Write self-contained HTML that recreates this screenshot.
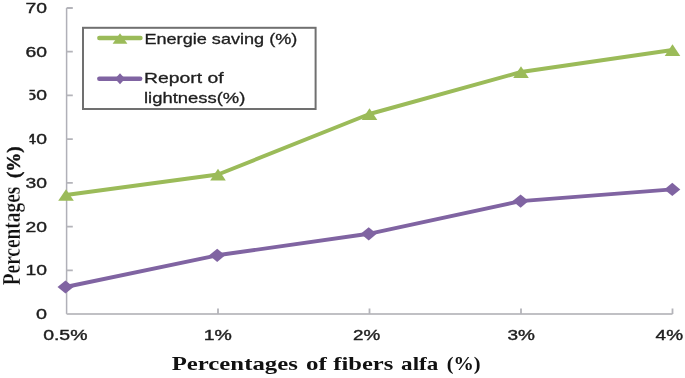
<!DOCTYPE html>
<html><head><meta charset="utf-8">
<style>
html,body{margin:0;padding:0;background:#fff;width:685px;height:378px;overflow:hidden}
svg{display:block;filter:blur(0.35px)}
.s{font-family:"Liberation Sans",sans-serif;fill:#1e1e1e}
.lb{stroke:#1e1e1e;stroke-width:0.4px}
.lb2{stroke:#1e1e1e;stroke-width:0.3px}
.er{stroke:#fff;stroke-width:0.25px}
.t{font-family:"Liberation Serif",serif;font-weight:bold;fill:#111}
</style></head><body>
<svg width="685" height="378" viewBox="0 0 685 378">
<rect width="685" height="378" fill="#fff"/>
<!-- axes -->
<g stroke="#b4b4ba" stroke-width="1.8" fill="none">
<path d="M66.6 8 V314" stroke-width="1.5" stroke="#b0b0b8"/>
<path d="M66.6 314 H672.5" stroke-width="1.9" stroke="#c0c0c4"/>
<path d="M66.6 8.0H72.8 M66.6 51.7H72.8 M66.6 95.4H72.8 M66.6 139.1H72.8 M66.6 182.9H72.8 M66.6 226.6H72.8 M66.6 270.3H72.8"/>
<path d="M218 314V308.5 M369.5 314V308.5 M521 314V308.5 M672.5 314V308.5"/>
</g>
<!-- y tick labels -->
<g class="s lb" font-size="15" text-anchor="end">
<text x="47" y="13.0" textLength="21.5" lengthAdjust="spacingAndGlyphs">70</text>
<text x="47" y="56.7" textLength="21.5" lengthAdjust="spacingAndGlyphs">60</text>
<text x="47" y="100.4" textLength="21.5" lengthAdjust="spacingAndGlyphs">50</text>
<text x="47" y="144.1" textLength="21.5" lengthAdjust="spacingAndGlyphs">40</text>
<text x="47" y="187.9" textLength="21.5" lengthAdjust="spacingAndGlyphs">30</text>
<text x="47" y="231.6" textLength="21.5" lengthAdjust="spacingAndGlyphs">20</text>
<text x="47" y="275.3" textLength="21.5" lengthAdjust="spacingAndGlyphs">10</text>
<text x="47" y="319.0" textLength="11" lengthAdjust="spacingAndGlyphs">0</text>
</g>
<!-- x tick labels -->
<g class="s lb" font-size="15.1" text-anchor="middle">
<text x="65.3" y="340.2" textLength="44.3" lengthAdjust="spacingAndGlyphs">0.5%</text>
<text x="217.8" y="340.2" textLength="28.2" lengthAdjust="spacingAndGlyphs">1%</text>
<text x="366.6" y="340.2" textLength="27.2" lengthAdjust="spacingAndGlyphs">2%</text>
<text x="521.2" y="340.2" textLength="27.5" lengthAdjust="spacingAndGlyphs">3%</text>
<text x="669.3" y="340.2" textLength="27.4" lengthAdjust="spacingAndGlyphs">4%</text>
</g>
<!-- series: green -->
<polyline points="66,195 218,174.5 369.5,114 521,72 672.5,50" fill="none" stroke="#9bbb59" stroke-width="3.9" stroke-linejoin="round"/>
<g fill="#9bbb59">
<path d="M66 189.2 L73.8 200.8 L58.2 200.8Z"/>
<path d="M218 168.8 L225.8 180.4 L210.2 180.4Z"/>
<path d="M369.5 108.3 L377.3 119.9 L361.7 119.9Z"/>
<path d="M521 66.3 L528.8 77.9 L513.2 77.9Z"/>
<path d="M672.5 44.3 L680.3 55.9 L664.7 55.9Z"/>
</g>
<!-- series: purple -->
<polyline points="65.5,287 217.2,255.3 368.7,233.8 520.6,201.1 672.3,189.4" fill="none" stroke="#8064a2" stroke-width="3.9" stroke-linejoin="round"/>
<g fill="#8064a2">
<path d="M65.5 280.4 L73.5 287 L65.5 293.6 L57.5 287Z"/>
<path d="M217.2 248.7 L225.2 255.3 L217.2 261.9 L209.2 255.3Z"/>
<path d="M368.7 227.2 L376.7 233.8 L368.7 240.4 L360.7 233.8Z"/>
<path d="M520.6 194.5 L528.6 201.1 L520.6 207.7 L512.6 201.1Z"/>
<path d="M672.3 182.8 L680.3 189.4 L672.3 196.0 L664.3 189.4Z"/>
</g>
<!-- legend -->
<rect x="83" y="27.8" width="232.6" height="81.2" fill="#fff" stroke="#707070" stroke-width="2"/>
<path d="M99.3 38H140.5" stroke="#9bbb59" stroke-width="4.4" stroke-linecap="round"/>
<path d="M120 33.2 L127.4 43.8 L112.6 43.8Z" fill="#9bbb59"/>
<path d="M99.3 78.8H140.2" stroke="#8064a2" stroke-width="4.4" stroke-linecap="round"/>
<path d="M120 73.3 L125 78.8 L120 84.3 L115 78.8Z" fill="#8064a2"/>
<g class="s lb2" font-size="15">
<text x="144.4" y="43.6" textLength="153" lengthAdjust="spacingAndGlyphs">Energie saving (%)</text>
<text x="144" y="83.4" textLength="79.5" lengthAdjust="spacingAndGlyphs">Report of</text>
<text x="144" y="102.9" textLength="101.3" lengthAdjust="spacingAndGlyphs">lightness(%)</text>
</g>
<!-- y title with white mask -->
<rect x="0" y="85" width="29.4" height="62" fill="#fff"/>
<text class="t er" font-size="18.7" transform="translate(20.4,285.3) scale(1.3,1) rotate(-90)" textLength="98.6" lengthAdjust="spacingAndGlyphs">Percentages</text>
<text class="t" style="stroke:#111;stroke-width:0.35px" font-size="15" transform="translate(20.4,178) scale(1.3,1) rotate(-90)" textLength="31.6" lengthAdjust="spacingAndGlyphs">(%)</text>
<!-- x title -->
<g class="t" font-size="19">
<text x="171.7" y="370.2" textLength="126.12" lengthAdjust="spacingAndGlyphs">Percentages</text>
<text x="306.1" y="370.2" textLength="20.74" lengthAdjust="spacingAndGlyphs">of</text>
<text x="333.3" y="370.2" textLength="60.04" lengthAdjust="spacingAndGlyphs">fibers</text>
<text x="401.1" y="370.2" textLength="37.21" lengthAdjust="spacingAndGlyphs">alfa</text>
<text x="446.7" y="370.2" textLength="33.85" lengthAdjust="spacingAndGlyphs">(%)</text>
</g>
</svg>
</body></html>
